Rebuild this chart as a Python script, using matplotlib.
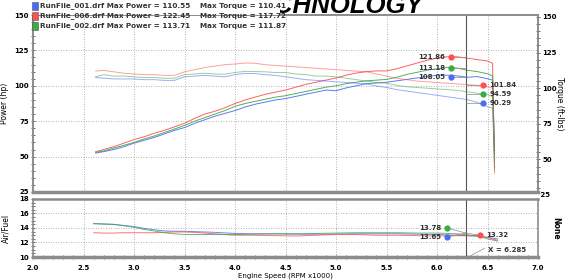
import numpy as np
import matplotlib.pyplot as plt
from matplotlib.patches import Rectangle
from matplotlib.ticker import MultipleLocator
import matplotlib.transforms as mtransforms

plt.rcParams['font.family'] = 'DejaVu Sans'
plt.rcParams['font.weight'] = 'bold'
plt.rcParams['font.size'] = 5

# --- data ---
rpm = [2.62, 2.7, 2.8, 2.9, 3.0, 3.1, 3.2, 3.3, 3.4, 3.5, 3.6, 3.7, 3.8, 3.9,
       4.0, 4.1, 4.2, 4.3, 4.4, 4.5, 4.6, 4.7, 4.8, 4.9, 5.0, 5.1, 5.2, 5.3,
       5.4, 5.5, 5.6, 5.7, 5.8, 5.9, 6.0, 6.1, 6.2, 6.3, 6.4, 6.5, 6.55, 6.57]

power_001 = [52.5, 53.5, 55, 57, 59.5, 61.5, 63.5, 66, 68.5, 70.5, 73.5, 76, 78.5, 80.5,
             82.5, 85, 87, 88.5, 90, 91, 92.5, 94, 95.5, 97, 96.5, 98.5, 100, 101.5,
             102, 102.5, 103.5, 104.5, 105.5, 106.5, 107.5, 107.5, 107, 106, 106.5, 105, 104, 54]
power_006 = [53.5, 55, 57, 59.5, 62, 64, 66.5, 68.5, 71, 73.5, 77, 80, 82, 84.5,
             87.5, 90, 92, 94, 95.5, 97, 99, 101, 102.5, 104, 105.5, 107.5, 109, 110,
             110.5, 110.5, 112, 114, 116, 118, 119.5, 120.5, 120.5, 119.5, 118.5, 117.5, 116, 42]
power_002 = [53, 54, 56, 58, 60, 62.5, 64.5, 67, 69.5, 72, 75, 77.5, 80, 82.5,
             85.5, 87.5, 89, 90.5, 92, 93, 94.5, 96, 97.5, 99, 100, 101.5, 102.5, 103.5,
             104, 104.5, 106, 108, 109.5, 111, 112, 113, 112.5, 111, 110, 108.5, 107, 48]

torque_001 = [107.5, 107, 106.5, 106.5, 106.5, 106, 106, 105.5, 105.5, 108, 108.5, 109, 108.5, 108,
              109.5, 110.4, 110.3, 109.5, 109, 108, 107, 106, 105.5, 105, 104.5, 104, 103.5, 103,
              101.5, 100.5, 99, 98, 97, 96, 95, 94, 93, 92, 90, 87, 86, 52]
torque_006 = [112, 112.5, 111.5, 110.5, 110, 109.5, 109.5, 109, 109, 111.5, 113, 114.5, 115.5, 116.5,
              117, 117.7, 117.5, 116.5, 116, 115.5, 115, 114.5, 114, 113.5, 113, 112.5, 112, 111.5,
              110, 108.5, 107, 106, 105, 104.5, 104, 103.5, 103, 102.5, 102, 101, 100, 40]
torque_002 = [108, 109.5, 108.5, 108.5, 108, 107.5, 107.5, 107, 107, 109.5, 110, 110.5, 110, 109.8,
              111, 111.8, 111.7, 111.5, 111, 111, 110, 109.5, 108.5, 108.5, 108, 107, 106, 105,
              104, 103.5, 102, 101, 100.5, 100, 99.5, 99, 98.5, 97.5, 96.5, 95.5, 94, 42]

afr_rpm = [2.6, 2.7, 2.8, 2.9, 3.0, 3.1, 3.2, 3.3, 3.4, 3.5, 3.6, 3.8, 4.0, 4.2,
           4.4, 4.6, 4.8, 5.0, 5.2, 5.4, 5.6, 5.8, 6.0, 6.2, 6.4, 6.5, 6.6]
afr_001 = [14.6, 14.55, 14.5, 14.35, 14.2, 13.95, 13.75, 13.6, 13.55, 13.55, 13.5, 13.4, 13.25, 13.2,
           13.2, 13.15, 13.15, 13.15, 13.2, 13.2, 13.2, 13.15, 13.1, 13.0, 12.9, 12.7, 12.5]
afr_006 = [13.35, 13.3, 13.3, 13.35, 13.35, 13.35, 13.35, 13.4, 13.45, 13.45, 13.4, 13.2, 13.0, 13.0,
           12.95, 12.9, 13.0, 13.1, 13.1, 13.0, 13.0, 12.95, 12.9, 12.95, 12.9, 12.7, 12.3]
afr_002 = [14.6, 14.55, 14.5, 14.3, 14.1, 13.8, 13.6, 13.35, 13.2, 13.1, 13.1, 13.1, 13.1, 13.15,
           13.2, 13.2, 13.25, 13.3, 13.35, 13.35, 13.35, 13.3, 13.3, 13.2, 12.9, 12.5, 12.2]

runs = ['RunFile_001.drf', 'RunFile_006.drf', 'RunFile_002.drf']
max_power = [110.55, 122.45, 113.71]
max_torque = [110.41, 117.72, 111.87]
colors = ['#4a6cf0', '#ff4f4f', '#3fa84a']

cursor_x = 6.285
power_marks = [108.05, 121.86, 113.18]     # labels at the power peak
power_mark_y = [106.2, 120.1, 112.4]
torque_marks = [90.29, 101.84, 94.59]
torque_mark_y = [89.8, 102.2, 96.1]
afr_marks = [13.65, 13.32, 13.78]
afr_mark_xy = [(6.1, 12.75), (6.43, 13.0), (6.1, 14.0)]

W, H = 568, 280
fig = plt.figure(figsize=(W / 100, H / 100), dpi=100)

ax = fig.add_axes([33 / W, 1 - 192 / H, 505 / W, 177 / H])
ax2 = ax.twinx()
axa = fig.add_axes([33 / W, 1 - 257 / H, 505 / W, 58 / H])

grid_kw = dict(color='#9a9a9a', linestyle=(0, (1, 2)), linewidth=0.6)

# power / torque
for p, t, c in zip([power_001, power_006, power_002], [torque_001, torque_006, torque_002], colors):
    ax.plot(rpm, p, color=c, lw=0.7, alpha=0.9)
    ax2.plot(rpm, t, color=c, lw=0.7, alpha=0.55)

ax.set_xlim(2.0, 7.0)
ax.set_ylim(25, 150)
ax2.set_ylim(27.1, 151.4)
ax.set_xticks(np.arange(2.0, 7.01, 0.5))
ax.tick_params(axis='x', length=0, labelbottom=False)
ax.yaxis.set_major_locator(MultipleLocator(25))
ax.yaxis.set_minor_locator(MultipleLocator(5))
ax2.set_yticks([50, 75, 100, 125, 150])
ax2.yaxis.set_minor_locator(MultipleLocator(5))
for a in (ax, ax2):
    a.tick_params(axis='y', which='both', direction='inout', length=3, width=0.6,
                  color='#555555', labelsize=5, pad=1.5)
ax.grid(True, which='major', **grid_kw)
ax2.text(1.0, 25, ' 25', transform=mtransforms.blended_transform_factory(ax2.transAxes, ax2.transData),
         ha='left', va='center', fontsize=5, clip_on=False)
ax.set_ylabel('Power (hp)', fontsize=5.5, labelpad=4)
ax2.set_ylabel('Torque (ft-lbs)', fontsize=5.5, rotation=270, labelpad=5)

ax.axvline(cursor_x, color='#555555', lw=0.8)

# marker labels on the top panel
for v, y, c in zip(power_marks, power_mark_y, colors):
    ax.plot([6.14, cursor_x], [y, y], color='#888888', lw=0.5)
    ax.plot(6.14, y, 'o', color=c, ms=4.5, mec='none')
    ax.text(6.08, y, f'{v:.2f}', ha='right', va='center', fontsize=5, color='#333333')
for v, y, c in zip(torque_marks, torque_mark_y, colors):
    ax2.plot([cursor_x, 6.46], [y, y], color='#888888', lw=0.5)
    ax2.plot(6.46, y, 'o', color=c, ms=4.5, mec='none')
    ax2.text(6.52, y, f'{v:.2f}', ha='left', va='center', fontsize=5, color='#333333')

# air / fuel panel
for a_, c in zip([afr_001, afr_006, afr_002], colors):
    axa.plot(afr_rpm, a_, color=c, lw=0.7, alpha=0.8)
axa.set_xlim(2.0, 7.0)
axa.set_ylim(10, 18)
axa.set_xticks(np.arange(2.0, 7.01, 0.5))
axa.xaxis.set_minor_locator(MultipleLocator(0.1))
axa.yaxis.set_major_locator(MultipleLocator(2))
axa.yaxis.set_minor_locator(MultipleLocator(0.5))
axa.tick_params(axis='both', which='both', direction='inout', length=3, width=0.6,
                color='#555555', labelsize=5, pad=1.5)
axa.tick_params(axis='x', pad=4)
axa.grid(True, which='major', **grid_kw)
axa.axvline(cursor_x, color='#555555', lw=0.8)
axa.set_ylabel('Air/Fuel', fontsize=5.5, labelpad=6)
axa.set_xlabel('Engine Speed (RPM x1000)', fontsize=5, labelpad=1)
axa.text(1.035, 0.5, 'None', rotation=270, transform=axa.transAxes, ha='center', va='center', fontsize=5.5)

for v, (x, y), c in zip(afr_marks, afr_mark_xy, colors):
    axa.plot([x, cursor_x], [y, 13.3], color='#888888', lw=0.5)
    axa.plot(x, y, 'o', color=c, ms=4.5, mec='none')
    if x < cursor_x:
        axa.text(x - 0.06, y, f'{v:.2f}', ha='right', va='center', fontsize=5, color='#333333')
    else:
        axa.text(x + 0.06, y, f'{v:.2f}', ha='left', va='center', fontsize=5, color='#333333')
axa.plot([cursor_x, 6.47], [9.8, 11.2], color='#888888', lw=0.5, clip_on=False)
axa.text(6.5, 10.9, f'X = {cursor_x:.3f}', ha='left', va='center', fontsize=5, color='#333333')

# frames
for a in (ax, ax2, axa):
    for s in a.spines.values():
        s.set_color('#8c8c8c')
        s.set_linewidth(1.2)
ax.spines['bottom'].set_linewidth(2.5)
axa.spines['bottom'].set_linewidth(2.5)
axa.spines['top'].set_linewidth(1.8)

# header: title partly hidden behind the legend box
fig.text(158 / W, 1 - 13 / H, 'INJEN TECHNOLOGY', fontsize=18.5, fontweight='heavy',
         fontstyle='italic', family='Liberation Sans', ha='left', va='baseline', zorder=1)
fig.add_artist(Rectangle((30 / W, 1 - 15 / H), 250 / W, 15 / H, transform=fig.transFigure,
                         facecolor='white', edgecolor='none', zorder=2))
for i, (name, mp, mt, c) in enumerate(zip(runs, max_power, max_torque, colors)):
    yc = 6 + i * 10
    fig.add_artist(Rectangle((32 / W, 1 - (yc + 3.5) / H), 6 / W, 7 / H, transform=fig.transFigure,
                             facecolor=c, edgecolor='#555555', lw=0.4, zorder=3))
    fig.text(40 / W, 1 - yc / H, f'{name} Max Power = {mp:.2f}', ha='left', va='center',
             fontsize=5.2, color='#333333', zorder=4)
    fig.text(200 / W, 1 - yc / H, f'Max Torque = {mt:.2f}', ha='left', va='center',
             fontsize=5.2, color='#333333', zorder=4)

fig.savefig('out.png', dpi=100)
